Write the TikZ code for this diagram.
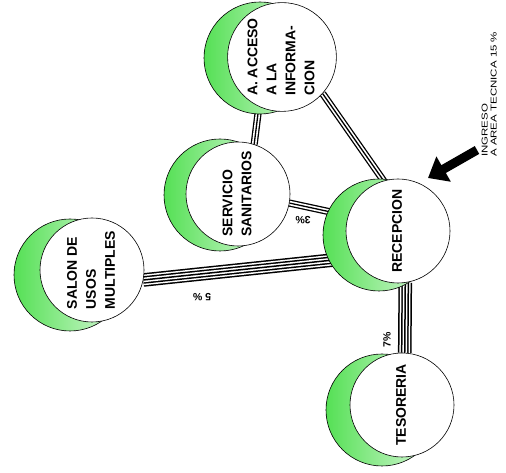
\documentclass[tikz,border=0pt]{standalone}
\usepackage{fontspec}
\setsansfont{Liberation Sans}
\newfontfamily\ingresofont[FakeStretch=1.35]{Liberation Sans}
\usepackage{graphicx}
\usetikzlibrary{arrows.meta, backgrounds}
\definecolor{moongreen}{HTML}{55E055}
\newcommand{\vlabel}[1]{\rotatebox{90}{\begin{tabular}{@{}l@{}}#1\end{tabular}}}
\tikzset{
  stationfont/.style={font=\fontsize{14}{19}\selectfont\sffamily\bfseries},
  station/.style={circle, draw=black, line width=0.6pt, fill=white,
                  minimum size=104pt, inner sep=0pt, stationfont},
  moon/.style={circle, draw=black, line width=0.6pt, left color=moongreen,
               right color=moongreen!20, minimum size=112pt, inner sep=0pt},
  link3/.style={draw=black, line width=7.2pt,
                postaction={draw=white, line width=4.6pt},
                postaction={draw=black, line width=1.3pt}},
  link5/.style={draw=black, line width=13.6pt,
                postaction={draw=white, line width=10.6pt},
                postaction={draw=black, line width=7.6pt},
                postaction={draw=white, line width=4.6pt},
                postaction={draw=black, line width=1.5pt}},
  pct/.style={font=\fontsize{10.5}{12}\selectfont\sffamily\bfseries, inner sep=0pt},
}

\begin{document}
\begin{tikzpicture}[x=1pt, y=1pt,
    ingreso/.style={line width=9pt, -{Triangle[length=18pt, width=28pt]}},
    ingresotext/.style={font=\ingresofont\fontsize{8.5}{9}\selectfont, inner sep=0pt}
]
  \useasboundingbox (0,0) rectangle (506,473);

  \node[moon] (acceso-moon) at (260,415) {};
  \node[moon] (servicio-moon) at (220,278) {};
  \node[moon] (recep-moon) at (379,238) {};
  \node[moon] (salon-moon) at (70,198) {};
  \node[moon] (tesor-moon) at (382,63) {};

  \node[station] (acceso) at (282,416) {\vlabel{A. ACCESO\\A LA\\INFORMA-\\CION}};
  \node[station] (servicio) at (238,279) {\vlabel{SERVICIO\\SANITARIOS}};
  \node[station] (recep) at (398,242) {\vlabel{RECEPCION}};
  \node[station] (salon) at (92,203) {\vlabel{SALON DE\\USOS\\MULTIPLES}};
  \node[station] (tesor) at (402,68) {\vlabel{TESORERIA}};

  \begin{scope}[on background layer]
    \draw[link3] (acceso.245) -- (servicio.72);
    \draw[link3] (acceso.-42) -- (recep.106);
    \draw[link3] (servicio.-10) -- (recep.163);
    \draw[link5] (salon.-11) -- (recep.211);
    \draw[link5] (recep.-82) -- (tesor.87);
  \end{scope}

  \node[pct, rotate=180] (pct-servicio) at (303,253) {3\%};
  \node[pct, rotate=180] (pct-salon) at (202,176) {5 \%};
  \node[pct, rotate=90] (pct-tesor) at (387,133) {7\%};

  \node[ingresotext, anchor=south west] (ingreso-text) at (481,316)
        {\vlabel{INGRESO\\A AREA TECNICA 15 \%}};
  \coordinate (ingreso-tail) at (477,323);
  \coordinate (ingreso-tip) at (428,295);
  \draw[ingreso] (ingreso-tail) -- (ingreso-tip);
\end{tikzpicture}
\end{document}
